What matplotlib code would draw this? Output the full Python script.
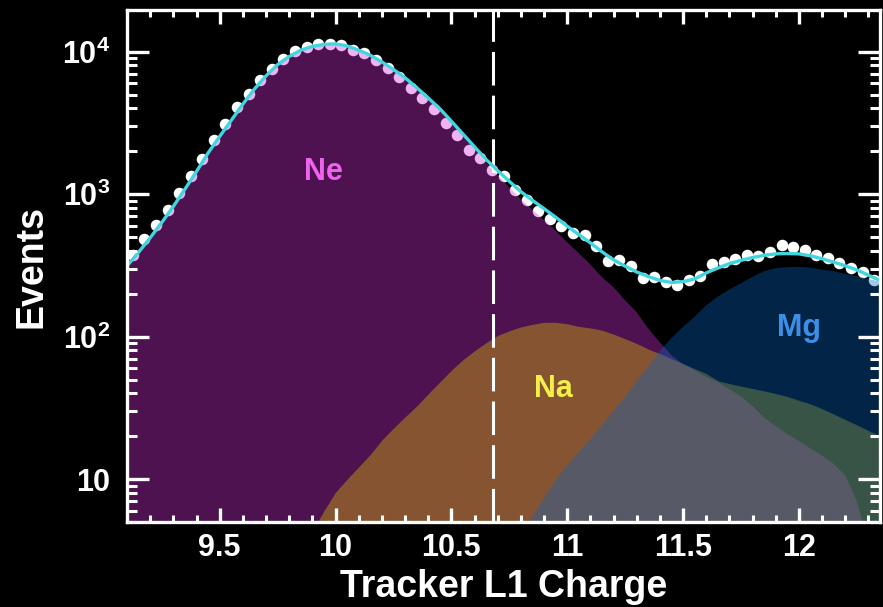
import numpy as np
import matplotlib
matplotlib.use("Agg")
import matplotlib.pyplot as plt
from matplotlib.ticker import FixedLocator, NullFormatter, LogLocator

plt.rcParams['font.family'] = ['Liberation Sans', 'DejaVu Sans']
plt.rcParams['font.weight'] = 'bold'
plt.rcParams['mathtext.fontset'] = 'custom'
plt.rcParams['mathtext.rm'] = 'Liberation Sans:bold'
plt.rcParams['mathtext.default'] = 'rm'

# ---- template grid (tracker L1 charge) ----
x_grid = np.linspace(9.10, 12.35, 66)

ne_counts = [312, 391, 494, 632, 820, 1084, 1442, 1945, 2541, 3296, 4285, 5470, 6761, 8110, 9245, 10230, 10886, 11240,
             11342, 10955, 10221, 9426, 8453, 7476, 6534, 5565, 4692, 3933, 3193, 2573, 2068, 1659, 1360, 1117, 919, 776, 658, 553,
             460, 386, 321, 262, 222, 180, 148, 114, 91, 74, 64, 58, 52, 48, 42.7, 38, 32.6, 27, 23.5, 20.7,
             18.5, 16.4, 14.6, 12.8, 10.6, 7.0, 3.5, 2.0]

na_counts = [0.5, 0.5, 0.5, 0.5, 0.5, 0.5, 0.5, 0.5, 0.5, 0.5, 0.5, 0.5, 1.0, 1.5, 2.2, 3.1, 4.3, 6.0,
             8.1, 10.0, 12.2, 14.9, 18.8, 22.8, 27.3, 32.6, 39.7, 48.0, 58.1, 68.9, 79.6, 90.8, 102, 110, 117, 122, 126, 126,
             123, 118, 115, 111, 104, 96.6, 89.5, 81.7, 75.9, 70.0, 64.6, 59.6, 55.0, 49.0, 46.8, 44.9, 43.2, 41.6, 39.8, 38.0,
             35.7, 33.7, 31.2, 28.6, 26.2, 24.0, 21.9, 20.0]

mg_counts = [0.1, 0.1, 0.1, 0.1, 0.1, 0.1, 0.1, 0.1, 0.1, 0.1, 0.1, 0.1, 0.1, 0.1, 0.1, 0.1, 0.1, 0.1,
             0.1, 0.1, 0.1, 0.1, 0.1, 0.1, 0.1, 0.1, 0.1, 0.1, 0.1, 0.1, 0.8, 1.3, 2.0, 2.8, 4.0, 5.5, 7.4, 9.8,
             12.6, 15.5, 19.1, 24.0, 30.2, 38.0, 49.0, 61.7, 79.4, 97.7, 117, 138, 166, 191, 214, 237, 263, 288, 302, 307,
             309, 305, 295, 288, 275, 266, 254, 243]

fit_counts = [313, 391, 494, 632, 820, 1084, 1442, 1945, 2541, 3296, 4285, 5470, 6761, 8110, 9247, 10233, 10890, 11246,
              11350, 10965, 10233, 9441, 8472, 7499, 6561, 5598, 4732, 3981, 3251, 2642, 2148, 1750, 1462, 1230, 1040, 904, 791, 689,
              596, 520, 455, 394, 346, 312, 284, 264, 248, 240, 243, 254, 280, 303, 325, 343, 359, 372, 381, 383,
              381, 369, 352, 333, 314, 294, 270, 248]

# ---- data points (bin centers) ----
x_data = np.linspace(9.125, 12.325, 65)
data_counts = [372, 482, 606, 772, 1025, 1350, 1770, 2380, 3110, 4110, 5080, 6320, 7500, 8850, 10100, 10800, 11402, 11298,
               11220, 10351, 9705, 8710, 7621, 6592, 5585, 4699, 3936, 3141, 2600, 2042, 1786, 1479, 1343, 1072, 912, 764,
               671, 593, 533, 519, 430, 337, 347, 311, 258, 262, 240, 232, 251, 268, 322, 332, 351, 376, 370, 394,
               438, 426, 407, 372, 356, 327, 303, 284, 251]

charge_cut = 10.68

xtick_vals = [9.5, 10, 10.5, 11, 11.5, 12]
xtick_labels = ['9.5', '10', '10.5', '11', '11.5', '12']
ytick_vals = [10, 100, 1000, 10000]
ytick_labels = ['10', r'$10^{2}$', r'$10^{3}$', r'$10^{4}$']

species = ['Ne', 'Na', 'Mg']
label_pos = {'Ne': (9.948, 1420), 'Na': (10.94, 43), 'Mg': (12.0, 115)}
label_colors = {'Ne': '#EE62EE', 'Na': '#F2EE4A', 'Mg': '#3C8EE6'}
fill_colors = {'Ne': '#D331D8', 'Na': '#E8C800', 'Mg': '#0867C3'}
fill_alpha = 0.37

fig = plt.figure(figsize=(8.83, 6.07), dpi=100, facecolor='black')
ax = fig.add_axes([127/883, 1-522/607, 753/883, 512/607])
ax.set_facecolor('black')
ax.set_yscale('log')
ax.set_xlim(9.10, 12.35)
ax.set_ylim(5.0, 1.96e4)

# data points (under the translucent templates)
ax.plot(x_data, data_counts, 'o', color='white', markersize=8.3, markeredgewidth=0, zorder=1.2)

comp = {'Ne': ne_counts, 'Na': na_counts, 'Mg': mg_counts}
for sp in species:
    ax.fill_between(x_grid, 0.01, comp[sp], color=fill_colors[sp], alpha=fill_alpha, linewidth=0, zorder=1.4)

ax.axvline(charge_cut, color='white', lw=2.2, dashes=(11, 3.3), zorder=1.6)
ax.plot(x_grid, fit_counts, color='#3FD6E0', lw=2.4, zorder=1.8, solid_capstyle='round')

for sp in species:
    ax.text(*label_pos[sp], sp, color=label_colors[sp], fontsize=22, fontweight='bold',
            ha='center', va='center', zorder=1.9)

# axes styling
ax.set_axisbelow(False)
for s in ax.spines.values():
    s.set_color('white')
    s.set_linewidth(2.4)
    s.set_zorder(3)

ax.set_xticks(xtick_vals, xtick_labels)
ax.xaxis.set_minor_locator(FixedLocator(np.arange(9.1, 12.36, 0.1)))
ax.set_yticks(ytick_vals, ytick_labels)
ax.yaxis.set_minor_locator(LogLocator(base=10, subs=np.arange(2, 10)))
ax.yaxis.set_minor_formatter(NullFormatter())

ax.tick_params(which='both', direction='in', top=True, right=True, colors='white',
               labelcolor='white', labelsize=22)
ax.tick_params(axis='x', which='major', length=10, width=2.4, pad=8)
ax.tick_params(axis='x', which='minor', length=5, width=2.2)
ax.tick_params(axis='y', which='major', length=16, width=2.4, pad=12)
ax.tick_params(axis='y', which='minor', length=7, width=2.2)

ax.set_xlabel('Tracker L1 Charge', fontsize=27, fontweight='bold', color='white', labelpad=4)
ax.set_ylabel('Events', fontsize=27, fontweight='bold', color='white', labelpad=9)

fig.savefig('out.png', dpi=100, facecolor='black')
